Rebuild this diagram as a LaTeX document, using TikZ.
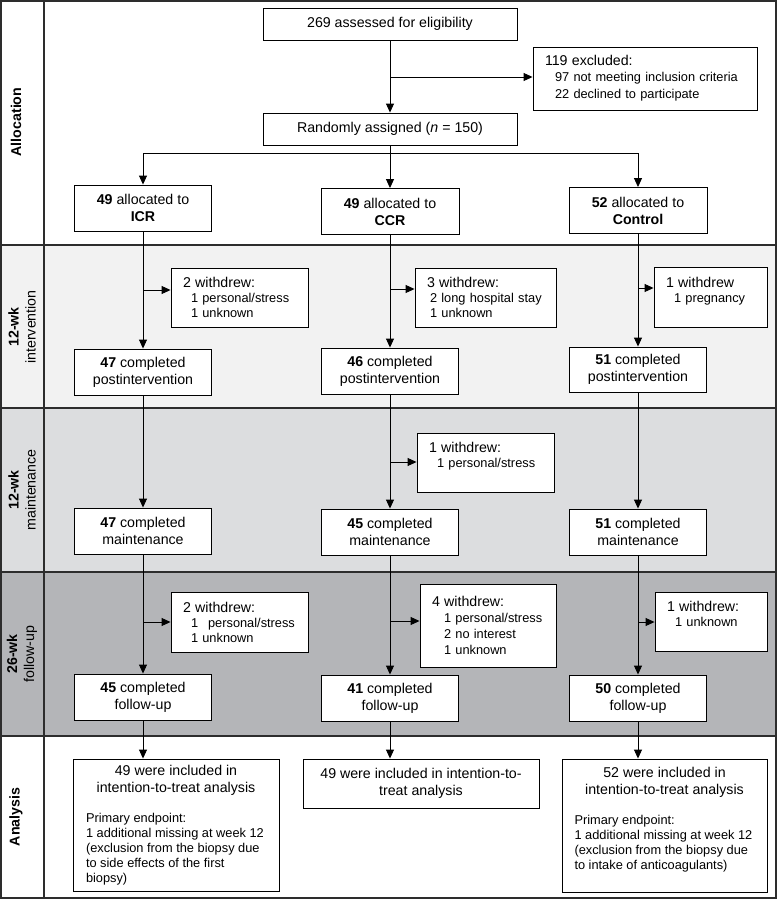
\documentclass[tikz,border=0pt]{standalone}
\usepackage{fontspec}
\setmainfont{Liberation Sans}
\usepackage{tikz}
\usetikzlibrary{arrows.meta}
\usetikzlibrary{positioning}
\definecolor{bandlight}{RGB}{242,242,242}
\definecolor{bandmid}{RGB}{220,221,223}
\definecolor{banddark}{RGB}{180,181,184}
\definecolor{rulegray}{RGB}{45,45,45}
\newcommand{\bigtxt}{\fontsize{14.2}{17}\selectfont}
\newcommand{\smalltxt}{\fontsize{12.8}{15}\selectfont}
\newcommand{\reason}[2][8pt]{\hspace*{#1}#2}
\tikzset{
stagebox/.style = { draw = black, fill = white, line width = 0.9pt, align = center, minimum width = 137pt, minimum height = 46pt, inner sep = 2pt, font = \bigtxt },
dropbox/.style = { draw = black, fill = white, line width = 0.9pt, align = left, inner xsep = 12pt, inner ysep = 2pt, font = \smalltxt },
ittbox/.style = { draw = black, fill = white, line width = 0.9pt, align = center, inner sep = 2pt, font = \bigtxt },
flow/.style = { -{Triangle[length = 9pt, width = 8pt]}, line width = 0.9pt },
bandline/.style = { draw = rulegray, line width = 1.2pt },
phase/.style = { rotate = 90, align = center, font = \bigtxt },
}
\begin{document}
\begin{tikzpicture}[x = 1pt, y = -1pt]
    \useasboundingbox (0, 0) rectangle (777, 900);
    % bands
    \fill[bandlight] (1, 245) rectangle (776, 408);
    \fill[bandmid] (1, 408) rectangle (776, 572);
    \fill[banddark] (1, 572) rectangle (776, 736);
    \path[bandline] (1, 1) rectangle (776, 898);
    \path[bandline] (44, 1) -- (44, 898);
    \path[bandline] (1, 245) -- (776, 245);
    \path[bandline] (1, 408) -- (776, 408);
    \path[bandline] (1, 572) -- (776, 572);
    \path[bandline] (1, 736) -- (776, 736);
    \node[phase] (lab alloc) at (16, 122) {\textbf{Allocation}};
    \node[phase] (lab int) at (22, 327) {\textbf{12-wk}\\intervention};
    \node[phase] (lab maint) at (22, 490) {\textbf{12-wk}\\maintenance};
    \node[phase] (lab follow) at (22, 654) {\textbf{26-wk}\\follow-up};
    \node[phase] (lab anal) at (16, 817) {\textbf{Analysis}};
    % allocation
    \node[stagebox, minimum width = 254pt, minimum height = 32pt] (elig) at (390, 24) {269 assessed for eligibility};
    \node[dropbox, text width = 200pt, minimum height = 63pt] (excl) at (645, 78.5) {{\bigtxt 119 excluded:}\\[1pt]\reason[10pt]{97 not meeting inclusion criteria}\\[2pt]\reason[10pt]{22 declined to participate}};
    \node[stagebox, minimum width = 254pt, minimum height = 32pt] (rand) at (390, 129) {Randomly assigned (\textit{n} = 150)};
    \node[stagebox] (icr) at (143, 208) {\textbf{49} allocated to\\\textbf{ICR}};
    \node[stagebox, minimum width = 138pt] (ccr) at (390, 211.5) {\textbf{49} allocated to\\\textbf{CCR}};
    \node[stagebox, minimum width = 138pt] (ctl) at (638, 210.5) {\textbf{52} allocated to\\\textbf{Control}};
    \coordinate (excl split) at (390, 77);
    \coordinate (rand split) at (390, 153);
    \draw[flow] (elig) -- (rand);
    \draw[flow] (excl split) -- (excl split -| excl.west);
    \draw[flow] (rand) -- (ccr);
    \draw[flow] (rand split) -| (icr);
    \draw[flow] (rand split) -| (ctl);
    % 12-wk intervention
    \node[dropbox, text width = 113pt, minimum height = 59pt] (drop icr int) at (239.5, 297.5) {{\bigtxt 2 withdrew:}\\\reason{1 personal/stress}\\\reason{1 unknown}};
    \node[dropbox, text width = 117pt, minimum height = 59pt] (drop ccr int) at (485.5, 297.5) {{\bigtxt 3 withdrew:}\\\reason[3pt]{2 long hospital stay}\\\reason[3pt]{1 unknown}};
    \node[dropbox, text width = 89pt, minimum height = 60pt] (drop ctl int) at (710.5, 297) {{\bigtxt 1 withdrew}\\\reason{1 pregnancy}\\~};
    \node[stagebox] (icr int) at (143, 372) {\textbf{47} completed\\postintervention};
    \node[stagebox] (ccr int) at (390, 371) {\textbf{46} completed\\postintervention};
    \node[stagebox, minimum height = 45pt] (ctl int) at (638, 369.5) {\textbf{51} completed\\postintervention};
    \draw[flow] (icr) -- (icr int);
    \draw[flow] (ccr) -- (ccr int);
    \draw[flow] (ctl) -- (ctl int);
    \coordinate (icr int split) at (143, 290);
    \coordinate (ccr int split) at (390, 289);
    \coordinate (ctl int split) at (638, 288);
    \draw[flow] (icr int split) -- (icr int split -| drop icr int.west);
    \draw[flow] (ccr int split) -- (ccr int split -| drop ccr int.west);
    \draw[flow] (ctl int split) -- (ctl int split -| drop ctl int.west);
    % 12-wk maintenance
    \node[dropbox, text width = 113pt, minimum height = 59pt] (drop ccr maint) at (485.5, 462.5) {{\bigtxt 1 withdrew:}\\\reason{1 personal/stress}\\~};
    \node[stagebox] (icr maint) at (143, 531) {\textbf{47} completed\\maintenance};
    \node[stagebox] (ccr maint) at (390, 532) {\textbf{45} completed\\maintenance};
    \node[stagebox] (ctl maint) at (638, 532) {\textbf{51} completed\\maintenance};
    \draw[flow] (icr int) -- (icr maint);
    \draw[flow] (ccr int) -- (ccr maint);
    \draw[flow] (ctl int) -- (ctl maint);
    \coordinate (ccr maint split) at (390, 462);
    \draw[flow] (ccr maint split) -- (ccr maint split -| drop ccr maint.west);
    % 26-wk follow-up
    \node[dropbox, text width = 113pt, minimum height = 60pt] (drop icr fu) at (239.5, 622) {{\bigtxt 2 withdrew:}\\\reason{1\hspace{10pt}personal/stress}\\\reason{1 unknown}};
    \node[dropbox, text width = 112pt, minimum height = 83pt] (drop ccr fu) at (488, 625.5) {{\bigtxt 4 withdrew:}\\[1pt]\reason[12pt]{1 personal/stress}\\[1pt]\reason[12pt]{2 no interest}\\[1pt]\reason[12pt]{1 unknown}};
    \node[dropbox, text width = 88pt, minimum height = 59pt] (drop ctl fu) at (711, 621.5) {{\bigtxt 1 withdrew:}\\\reason{1 unknown}\\~};
    \node[stagebox] (icr fu) at (143, 697) {\textbf{45} completed\\follow-up};
    \node[stagebox] (ccr fu) at (390, 698) {\textbf{41} completed\\follow-up};
    \node[stagebox] (ctl fu) at (638, 698) {\textbf{50} completed\\follow-up};
    \draw[flow] (icr maint) -- (icr fu);
    \draw[flow] (ccr maint) -- (ccr fu);
    \draw[flow] (ctl maint) -- (ctl fu);
    \coordinate (icr fu split) at (143, 622);
    \coordinate (ccr fu split) at (390, 621);
    \coordinate (ctl fu split) at (638, 622);
    \draw[flow] (icr fu split) -- (icr fu split -| drop icr fu.west);
    \draw[flow] (ccr fu split) -- (ccr fu split -| drop ccr fu.west);
    \draw[flow] (ctl fu split) -- (ctl fu split -| drop ctl fu.west);
    % analysis
    \node[ittbox, minimum width = 206pt, minimum height = 132pt] (icr itt) at (176, 825) {49 were included in\\intention-to-treat analysis\\[13pt]\parbox[t]{180pt}{\smalltxt\raggedright Primary endpoint:\\1 additional missing at week 12\\(exclusion from the biopsy due\\to side effects of the first\\biopsy)}};
    \node[ittbox, minimum width = 236pt, minimum height = 49pt] (ccr itt) at (421, 783.5) {49 were included in intention-to-\\treat analysis};
    \node[ittbox, minimum width = 205pt, minimum height = 133pt] (ctl itt) at (664.5, 825.5) {52 were included in\\intention-to-treat analysis\\[13pt]\parbox[t]{180pt}{\smalltxt\raggedright Primary endpoint:\\1 additional missing at week 12\\(exclusion from the biopsy due\\to intake of anticoagulants)\\~}};
    \draw[flow] (icr fu) -- (icr fu |- icr itt.north);
    \draw[flow] (ccr fu) -- (ccr fu |- ccr itt.north);
    \draw[flow] (ctl fu) -- (ctl fu |- ctl itt.north);
\end{tikzpicture}
\end{document}
